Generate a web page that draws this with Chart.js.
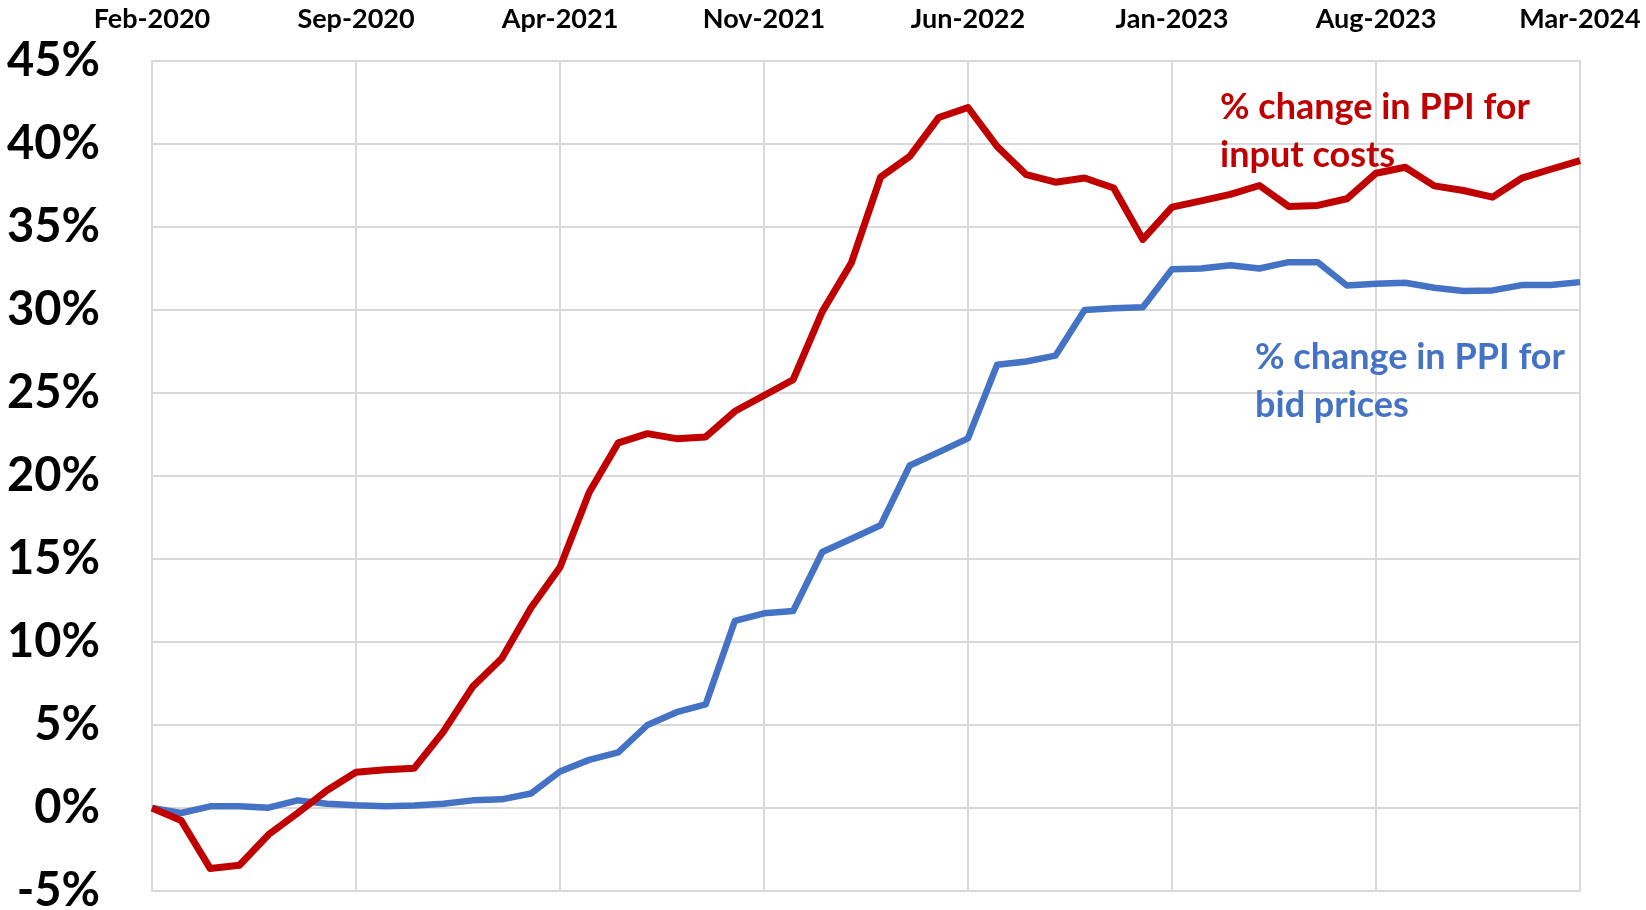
<!DOCTYPE html>
<html>
<head>
<meta charset="utf-8">
<script src="https://cdn.jsdelivr.net/npm/chart.js"></script>
<style>
  html, body { margin: 0; padding: 0; background: #fff; overflow: hidden; }
</style>
</head>
<body>
<canvas id="chart" width="1646" height="910"></canvas>
<script>
// monthly observations, Feb-2020 .. Mar-2024
const months = [
  'Feb-2020','Mar-2020','Apr-2020','May-2020','Jun-2020','Jul-2020','Aug-2020','Sep-2020','Oct-2020','Nov-2020','Dec-2020',
  'Jan-2021','Feb-2021','Mar-2021','Apr-2021','May-2021','Jun-2021','Jul-2021','Aug-2021','Sep-2021','Oct-2021','Nov-2021','Dec-2021',
  'Jan-2022','Feb-2022','Mar-2022','Apr-2022','May-2022','Jun-2022','Jul-2022','Aug-2022','Sep-2022','Oct-2022','Nov-2022','Dec-2022',
  'Jan-2023','Feb-2023','Mar-2023','Apr-2023','May-2023','Jun-2023','Jul-2023','Aug-2023','Sep-2023','Oct-2023','Nov-2023','Dec-2023',
  'Jan-2024','Feb-2024','Mar-2024'
];

// labels shown along the top axis
const tickLabels = ['Feb-2020','Sep-2020','Apr-2021','Nov-2021','Jun-2022','Jan-2023','Aug-2023','Mar-2024'];

// % change in PPI for input costs
const inputCosts = [
  0, -0.75, -3.65, -3.45, -1.6, -0.3, 1.05, 2.15, 2.3, 2.4, 4.6,
  7.3, 9.0, 12.05, 14.5, 19.0, 22.0, 22.55, 22.25, 22.35, 23.9, 24.85, 25.8,
  29.9, 32.85, 38.0, 39.25, 41.6, 42.2, 39.85, 38.15, 37.7, 37.95, 37.35, 34.25,
  36.2, 36.57, 36.97, 37.5, 36.24, 36.3, 36.7, 38.24, 38.6, 37.48, 37.2, 36.8,
  37.94, 38.48, 39.0
];

// % change in PPI for bid prices
const bidPrices = [
  0, -0.3, 0.1, 0.1, 0.02, 0.46, 0.26, 0.16, 0.1, 0.15, 0.26,
  0.46, 0.52, 0.87, 2.2, 2.9, 3.35, 5.0, 5.77, 6.24, 11.27, 11.73, 11.87,
  15.42, 16.22, 17.03, 20.63, 21.44, 22.27, 26.7, 26.9, 27.25, 30.0, 30.1, 30.16,
  32.45, 32.5, 32.7, 32.5, 32.88, 32.88, 31.48, 31.58, 31.64, 31.34, 31.14, 31.18,
  31.5, 31.5, 31.68
];

const RED = '#C00000';
const BLUE = '#4472C4';
const GRID = '#d9d9d9';
const FONT = 'Lato';

// in-chart series labels, anchored in data units (month index, percent)
const notes = [
  { lines: ['% change in PPI for', 'input costs'], color: RED, at: [36.65, 42.2] },
  { lines: ['% change in PPI for', 'bid prices'], color: BLUE, at: [37.85, 27.15] }
];

const notesPlugin = {
  id: 'notes',
  afterDatasetsDraw(chart) {
    const { ctx, scales } = chart;
    ctx.save();
    ctx.font = 'bold 36px ' + FONT;
    ctx.textAlign = 'left';
    ctx.textBaseline = 'middle';
    notes.forEach(n => {
      const px = scales.x.getPixelForValue(n.at[0]);
      const py = scales.y.getPixelForValue(n.at[1]);
      ctx.fillStyle = n.color;
      n.lines.forEach((t, k) => ctx.fillText(t, px, py + k * 48));
    });
    ctx.restore();
  }
};

const ctx = document.getElementById('chart').getContext('2d');
const chart = new Chart(ctx, {
  type: 'line',
  data: {
    labels: months,
    datasets: [
      {
        label: '% change in PPI for input costs',
        data: inputCosts,
        borderColor: RED,
        borderWidth: 7,
        borderJoinStyle: 'round',
        pointRadius: 0,
        tension: 0,
        fill: false
      },
      {
        label: '% change in PPI for bid prices',
        data: bidPrices,
        borderColor: BLUE,
        borderWidth: 6.5,
        borderJoinStyle: 'round',
        pointRadius: 0,
        tension: 0,
        fill: false
      }
    ]
  },
  options: {
    responsive: false,
    devicePixelRatio: 1,
    animation: false,
    layout: { padding: { left: 0, right: 66, top: 0, bottom: 19 } },
    plugins: {
      legend: { display: false },
      tooltip: { enabled: false }
    },
    scales: {
      x: {
        position: 'top',
        offset: false,
        // tick marks are invisible; their length spaces the labels off the plot
        grid: { color: GRID, lineWidth: 2, drawTicks: true, tickLength: 26, tickColor: 'rgba(0,0,0,0)' },
        border: { color: GRID, width: 2 },
        ticks: {
          autoSkip: false,
          maxRotation: 0,
          padding: 0,
          color: '#000',
          font: { family: FONT, size: 27, weight: 'bold' },
          callback: function (v, i) {
            const m = months[i];
            return tickLabels.includes(m) ? m : null;
          }
        },
        afterFit: s => { s.height = 61; }
      },
      y: {
        min: -5,
        max: 45,
        grid: { color: GRID, lineWidth: 2, drawTicks: true, tickLength: 52, tickColor: 'rgba(0,0,0,0)' },
        border: { color: GRID, width: 2 },
        ticks: {
          stepSize: 5,
          padding: 0,
          color: '#000',
          font: { family: FONT, size: 47, weight: 'bold', lineHeight: 0.7 },
          callback: v => v + '%'
        },
        afterFit: s => { s.width = 152; }
      }
    }
  },
  plugins: [notesPlugin]
});
</script>
</body>
</html>
